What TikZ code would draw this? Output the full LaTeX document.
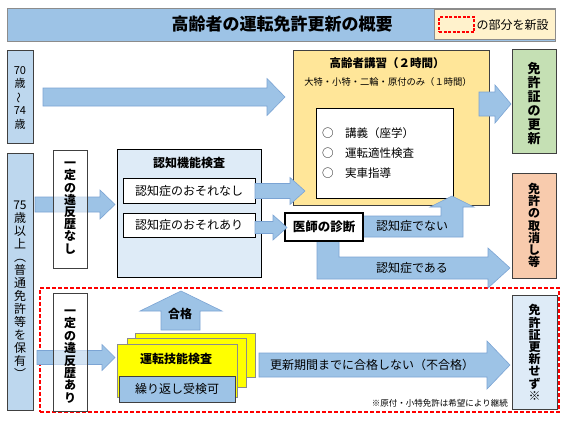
\documentclass[tikz,border=0pt]{standalone}
\usepackage{fontspec}
\setmainfont{Noto Sans CJK JP}
\usepackage{graphicx}
\definecolor{tblue}{HTML}{9DC3E6}
\definecolor{aedge}{HTML}{7BA4D4}
\definecolor{ageblue}{HTML}{BDD7EE}
\definecolor{lect}{HTML}{FFE699}
\definecolor{lgreen}{HTML}{C5E0B4}
\definecolor{salmon}{HTML}{F8CBAD}
\definecolor{pale}{HTML}{DEEBF7}
\definecolor{legy}{HTML}{FFF2CC}
\definecolor{yel}{HTML}{FFFF00}
\definecolor{dk}{HTML}{404040}
\definecolor{gedge}{HTML}{8C8C8C}
\newcommand{\rbx}[7]{\node[#2, inner sep=0pt, minimum width={#5-#3}, minimum height={#6-#4}] (#1) at ({(#3+#5)/2},{(#4+#6)/2}) {#7};}
% style, xstart, headbase, cy, shafthalf, headhalf, tip
\newcommand{\harr}[7]{\path[#1] (#2,#4-#5) -- (#3,#4-#5) -- (#3,#4-#6) -- (#7,#4) -- (#3,#4+#6) -- (#3,#4+#5) -- (#2,#4+#5) -- cycle;}
\tikzset{
  blk/.style={fill=tblue, draw=aedge, line width=0.6pt},
  bx/.style={draw=dk, line width=0.8pt},
  vt/.style={align=center, inner sep=0pt},
  txt/.style={inner sep=0pt},
}
\begin{document}
\begin{tikzpicture}[x=1pt,y=-1pt]
\useasboundingbox (0,0) rectangle (567,421);
\fill[white] (0,0) rectangle (567,421);
% title
\rbx{title}{fill=tblue, draw=gedge, line width=0.8pt}{7}{8}{555}{41}{}
\node[txt, font=\fontsize{17}{17}\selectfont\bfseries] (titletext) at (282,24.5) {高齢者の運転免許更新の概要};
\rbx{legend}{fill=legy, draw=gedge, line width=0.8pt}{434}{9}{555}{39}{}
\rbx{legmark}{draw=red, dash pattern=on 3pt off 1.5pt, line width=1.3pt}{439}{17}{474}{32}{}
\node[txt, font=\fontsize{12}{12}\selectfont] (legtext) at (512.5,24.5) {の部分を新設};
% new area
\rbx{newarea}{draw=red, dash pattern=on 4pt off 2pt, line width=1.2pt}{40}{288}{559}{412}{}
% age boxes
\rbx{age1}{bx, fill=ageblue}{7}{50}{33}{143}{}
\node[vt, font=\fontsize{11}{13.5}\selectfont] (age1t) at (20,97.5) {70\\歳\\\rotatebox[origin=c]{90}{〜}\\74\\歳};
\rbx{age2}{bx, fill=ageblue}{7}{153}{33}{410}{}
\node[vt, font=\fontsize{12}{13}\selectfont] (age2t) at (20,289.5) {75\\歳\\以\\上\\︵\\普\\通\\免\\許\\等\\を\\保\\有\\︶};
% arrow 70-74 -> lecture
\harr{blk}{43}{267}{97}{9}{18.5}{285}
% lecture box
\rbx{lecture}{draw=dk, line width=0.8pt, fill=lect}{293}{50}{489}{205}{}
\node[txt, font=\fontsize{11.5}{12}\selectfont\bfseries] (lectt) at (387,63) {高齢者講習（２時間）};
\node[txt, font=\fontsize{9.3}{10}\selectfont] (lects) at (388,82) {大特・小特・二輪・原付のみ（１時間）};
\rbx{inner}{draw=black, line width=0.8pt, fill=white}{316}{108}{453}{198}{}
\node[txt, anchor=west, font=\fontsize{11.5}{12}\selectfont] (it1) at (322,133) {○　講義（座学）};
\node[txt, anchor=west, font=\fontsize{11.5}{12}\selectfont] (it2) at (322,153) {○　運転適性検査};
\node[txt, anchor=west, font=\fontsize{11.5}{12}\selectfont] (it3) at (322,173) {○　実車指導};
% lecture -> renewal
\harr{blk}{479}{495}{104}{12}{19}{511}
\rbx{renew}{bx, fill=lgreen}{512}{49}{556}{153}{}
\node[vt, font=\fontsize{13}{14}\selectfont\bfseries] (renewt) at (534,104) {免\\許\\証\\の\\更\\新};
% cognitive test
\rbx{ninchi}{draw=black, line width=0.8pt, fill=pale}{117}{149}{261}{277}{}
\node[txt, font=\fontsize{12}{12}\selectfont\bfseries] (ninchit) at (189,163) {認知機能検査};
\rbx{nashi}{draw=black, line width=0.8pt, fill=white}{123}{178}{255}{203}{\fontsize{12}{12}\selectfont 認知症のおそれなし}
\rbx{ari}{draw=black, line width=0.8pt, fill=white}{123}{213}{255}{237}{\fontsize{12}{12}\selectfont 認知症のおそれあり}
\harr{blk}{255}{290}{191}{7.5}{13.5}{305}
% bent arrows from doctor
\path[blk] (355,216) -- (441,216) -- (441,207) -- (430,207) -- (452,196) -- (474,207) -- (463,207) -- (463,237) -- (355,237) -- cycle;
\node[txt, font=\fontsize{12}{12}\selectfont] (denai) at (412,226) {認知症でない};
\path[blk] (317,235) -- (339,235) -- (339,257) -- (488,257) -- (488,248) -- (510,268) -- (488,288) -- (488,279) -- (317,279) -- cycle;
\node[txt, font=\fontsize{12}{12}\selectfont] (dearu) at (412,268) {認知症である};
\rbx{ishi}{draw=black, line width=1.1pt, fill=white}{285}{213}{363}{241}{\fontsize{12.5}{12.5}\selectfont\bfseries 医師の診断}
\harr{blk}{255}{273}{227.5}{6}{12.5}{287}
\rbx{tori}{bx, fill=salmon}{512}{173}{556}{278}{}
\node[vt, font=\fontsize{12}{12.2}\selectfont\bfseries] (torit) at (534,225.5) {免\\許\\の\\取\\消\\し\\等};
% no violation
\harr{blk}{35}{100}{204.5}{7.5}{14.5}{115}
\rbx{ihan1}{draw=dk, line width=0.8pt, fill=white, fill opacity=0.55}{53}{150}{87}{268}{}
\node[vt, font=\fontsize{12}{12.2}\selectfont\bfseries] (ihan1t) at (70,208) {一\\定\\の\\違\\反\\歴\\な\\し};
% with violation
\harr{blk}{37}{102}{357.5}{7}{13}{115}
\rbx{ihan2}{draw=dk, line width=0.8pt, fill=white, fill opacity=0.55}{53}{293}{87}{411}{}
\node[vt, font=\fontsize{12}{12.4}\selectfont\bfseries] (ihan2t) at (70,356.5) {一\\定\\の\\違\\反\\歴\\あ\\り};
% pass arrow
\path[blk] (161,330) -- (161,311) -- (140,311) -- (181,291) -- (222,311) -- (200,311) -- (200,330) -- cycle;
\node[txt, font=\fontsize{12}{12}\selectfont\bfseries] (gokaku) at (180,314) {合格};
% driving skill test stack
\rbx{st3}{draw=gedge, line width=0.8pt, fill=yel}{135}{333}{255}{377}{}
\rbx{st2}{draw=gedge, line width=0.8pt, fill=yel}{127}{338}{246}{387}{}
\rbx{st1}{draw=gedge, line width=0.8pt, fill=yel}{117}{344}{237}{397}{}
\node[txt, font=\fontsize{12}{12}\selectfont\bfseries] (ginou) at (176,358.5) {運転技能検査};
\rbx{retry}{bx, fill=tblue}{119}{376}{235}{402}{\fontsize{12}{12}\selectfont 繰り返し受検可}
% fail arrow
\harr{blk}{259}{487}{365}{12}{24}{510}
\node[txt, font=\fontsize{12}{12}\selectfont] (fail) at (372,365) {更新期間までに合格しない（不合格）};
\rbx{sezu}{bx, fill=pale}{512}{295}{557}{409}{}
\node[vt, font=\fontsize{12}{12.2}\selectfont\bfseries] (sezut) at (534.5,352.5) {免\\許\\証\\更\\新\\せ\\ず\\※};
\node[txt, anchor=east, font=\fontsize{8.5}{9}\selectfont] (note) at (508,403) {※原付・小特免許は希望により継続};
\end{tikzpicture}
\end{document}
